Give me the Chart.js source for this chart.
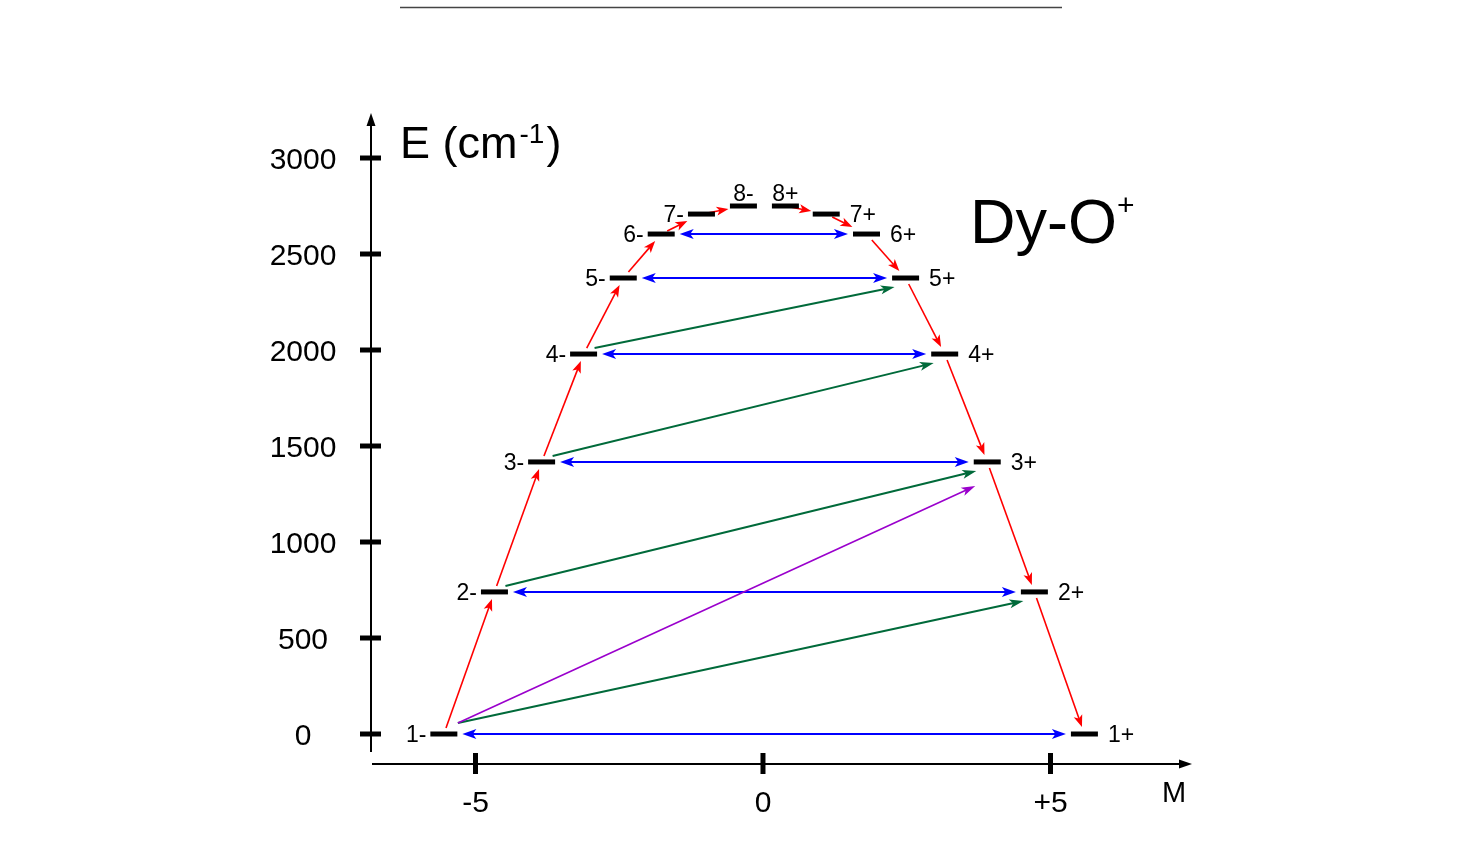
<!DOCTYPE html>
<html><head><meta charset="utf-8">
<script src="https://cdn.jsdelivr.net/npm/chart.js@4"></script>
<style>html,body{margin:0;padding:0;background:#fff}canvas{display:block}</style>
</head><body>
<canvas id="c" width="1464" height="864"></canvas>
<script>
// ---------- data ----------
const levelNames = ['1-','2-','3-','4-','5-','6-','7-','8-','8+','7+','6+','5+','4+','3+','2+','1+'];
const levelM = [-5.55,-4.67,-3.85,-3.12,-2.43,-1.77,-1.07,-0.34,0.39,1.10,1.80,2.48,3.16,3.90,4.72,5.59];
const levelE = [0,740,1417,1979,2375,2604,2708,2750,2750,2708,2604,2375,1979,1417,740,0];
const yTickValues = [0,500,1000,1500,2000,2500,3000];
const yTickLabels = ['0','500','1000','1500','2000','2500','3000'];
const xTickValues = [-5,0,5];
const xTickLabels = ['-5','0','+5'];
// transitions as [from level index, to level index]
const redTransitions = [[0,1],[1,2],[2,3],[3,4],[4,5],[5,6],[6,7],[8,9],[9,10],[10,11],[11,12],[12,13],[13,14],[14,15]];
const blueTransitions = [[0,15],[1,14],[2,13],[3,12],[4,11],[5,10]];
const greenTransitions = [[0,14],[1,13],[2,12],[3,11]];
const purpleTransitions = [[0,13]];
const yAxisTitle = 'E (cm';
const yAxisTitleSup = '-1';
const xAxisTitle = 'M';
const chartTitle = 'Dy-O';
const chartTitleSup = '+';

// ---------- styles ----------
const FONT = "'Liberation Sans', Arial, sans-serif";
const RED = '#ff0000', BLUE = '#0000ff', GREEN = '#006a3a', PURPLE = '#9a00cc';

function head(ctx, x, y, ux, uy, len, w) {
  const px = -uy, py = ux;
  ctx.beginPath();
  ctx.moveTo(x, y);
  ctx.lineTo(x - ux * len + px * w / 2, y - uy * len + py * w / 2);
  ctx.lineTo(x - ux * len * 0.75, y - uy * len * 0.75);
  ctx.lineTo(x - ux * len - px * w / 2, y - uy * len - py * w / 2);
  ctx.closePath();
  ctx.fill();
}
function arrow(ctx, x1, y1, x2, y2, color, lw, len, w, dbl) {
  const dx = x2 - x1, dy = y2 - y1, L = Math.hypot(dx, dy), ux = dx / L, uy = dy / L;
  ctx.save();
  ctx.strokeStyle = color; ctx.fillStyle = color; ctx.lineWidth = lw;
  ctx.beginPath();
  const s = dbl ? len * 0.7 : 0;
  ctx.moveTo(x1 + ux * s, y1 + uy * s);
  ctx.lineTo(x2 - ux * len * 0.7, y2 - uy * len * 0.7);
  ctx.stroke();
  head(ctx, x2, y2, ux, uy, len, w);
  if (dbl) head(ctx, x1, y1, -ux, -uy, len, w);
  ctx.restore();
}
function exitT(ux, uy, hw, hh) {
  const a = Math.abs(ux) > 1e-6 ? hw / Math.abs(ux) : Infinity;
  const b = Math.abs(uy) > 1e-6 ? hh / Math.abs(uy) : Infinity;
  return Math.min(a, b);
}

const diagramPlugin = {
  id: 'diagram',
  beforeDatasetsDraw(chart) {
    const ctx = chart.ctx, xs = chart.scales.x, ys = chart.scales.y, ca = chart.chartArea;
    const P = i => ({ x: xs.getPixelForValue(levelM[i]), y: ys.getPixelForValue(levelE[i]) });
    ctx.save();
    // axes
    ctx.strokeStyle = '#000'; ctx.fillStyle = '#000'; ctx.lineWidth = 2;
    ctx.beginPath(); ctx.moveTo(ca.left, ca.bottom - 12); ctx.lineTo(ca.left, ca.top + 8); ctx.stroke();
    ctx.beginPath(); ctx.moveTo(ca.left - 4.5, ca.top + 13); ctx.lineTo(ca.left, ca.top); ctx.lineTo(ca.left + 4.5, ca.top + 13); ctx.closePath(); ctx.fill();
    ctx.beginPath(); ctx.moveTo(ca.left + 1, ca.bottom); ctx.lineTo(ca.right - 8, ca.bottom); ctx.stroke();
    ctx.beginPath(); ctx.moveTo(ca.right - 13, ca.bottom - 4.5); ctx.lineTo(ca.right, ca.bottom); ctx.lineTo(ca.right - 13, ca.bottom + 4.5); ctx.closePath(); ctx.fill();
    ctx.lineWidth = 5;
    yTickValues.forEach(v => {
      const y = ys.getPixelForValue(v);
      ctx.beginPath(); ctx.moveTo(ca.left - 11, y); ctx.lineTo(ca.left + 10, y); ctx.stroke();
    });
    xTickValues.forEach(v => {
      const x = xs.getPixelForValue(v);
      ctx.beginPath(); ctx.moveTo(x, ca.bottom - 11); ctx.lineTo(x, ca.bottom + 10); ctx.stroke();
    });
    // blue double arrows
    blueTransitions.forEach(([a, b]) => {
      const p = P(a), q = P(b);
      arrow(ctx, p.x + 18.5, p.y, q.x - 18.5, q.y, BLUE, 2, 14, 10, true);
    });
    // green arrows
    greenTransitions.forEach(([a, b], k) => {
      const p = P(a), q = P(b);
      const sx = k === 0 ? 14 : 11, sy = k === 0 ? -11 : -6;
      arrow(ctx, p.x + sx, p.y + sy, q.x - 11, q.y + 9, GREEN, 2, 14, 9, false);
    });
    // purple arrows
    purpleTransitions.forEach(([a, b]) => {
      const p = P(a), q = P(b);
      arrow(ctx, p.x + 14, p.y - 11, q.x - 12, q.y + 24, PURPLE, 1.6, 14, 9, false);
    });
    // red arrows
    redTransitions.forEach(([a, b]) => {
      const p = P(a), q = P(b);
      const dx = q.x - p.x, dy = q.y - p.y, L = Math.hypot(dx, dy), ux = dx / L, uy = dy / L;
      const t1 = exitT(ux, uy, 6, 6), t2 = exitT(ux, uy, 15, 7);
      arrow(ctx, p.x + ux * t1, p.y + uy * t1, q.x - ux * t2, q.y - uy * t2, RED, 1.6, 12, 9, false);
    });
    ctx.restore();
  },
  afterDraw(chart) {
    const ctx = chart.ctx, xs = chart.scales.x, ys = chart.scales.y, ca = chart.chartArea;
    ctx.save();
    ctx.fillStyle = '#000';
    // tick labels
    ctx.font = '30px ' + FONT; ctx.textAlign = 'center'; ctx.textBaseline = 'alphabetic';
    yTickValues.forEach((v, i) => ctx.fillText(yTickLabels[i], ca.left - 68, ys.getPixelForValue(v) + 11));
    xTickValues.forEach((v, i) => ctx.fillText(xTickLabels[i], xs.getPixelForValue(v), ca.bottom + 48));
    // x axis title
    ctx.font = '29px ' + FONT; ctx.textAlign = 'left';
    ctx.fillText(xAxisTitle, ca.right - 30, ca.bottom + 38);
    // y axis title with superscript
    ctx.font = '45px ' + FONT;
    let x = ca.left + 29;
    ctx.fillText(yAxisTitle, x, ca.top + 45); x += ctx.measureText(yAxisTitle).width;
    ctx.font = '28px ' + FONT; ctx.fillText(yAxisTitleSup, x + 2, ca.top + 30); x += ctx.measureText(yAxisTitleSup).width + 4;
    ctx.font = '45px ' + FONT; ctx.fillText(')', x, ca.top + 45);
    // chart title
    ctx.font = '63px ' + FONT;
    ctx.fillText(chartTitle, 970, 243);
    const tw = ctx.measureText(chartTitle).width;
    ctx.font = '30px ' + FONT; ctx.fillText(chartTitleSup, 970 + tw, 215);
    // level labels
    ctx.font = '23px ' + FONT;
    levelNames.forEach((n, i) => {
      const px = xs.getPixelForValue(levelM[i]), py = ys.getPixelForValue(levelE[i]);
      if (n === '8-' || n === '8+') {
        ctx.textAlign = 'center'; ctx.fillText(n, px, py - 13 + 8);
      } else if (n.endsWith('-')) {
        ctx.textAlign = 'right'; ctx.fillText(n, px - 13.5 - 4, py + 8);
      } else {
        ctx.textAlign = 'left'; ctx.fillText(n, px + 13.5 + 10, py + 8);
      }
    });
    // top rule
    ctx.strokeStyle = '#444'; ctx.lineWidth = 1.5;
    ctx.beginPath(); ctx.moveTo(400, 7.5); ctx.lineTo(1062, 7.5); ctx.stroke();
    ctx.restore();
  }
};

new Chart(document.getElementById('c'), {
  type: 'scatter',
  data: {
    datasets: [{
      label: 'levels',
      data: levelM.map((m, i) => ({ x: m, y: levelE[i] })),
      pointStyle: 'line',
      pointRadius: 13.5,
      pointHoverRadius: 13.5,
      pointBorderWidth: 5,
      pointBorderColor: '#000',
      pointBackgroundColor: '#000',
      clip: false
    }]
  },
  options: {
    responsive: false,
    animation: false,
    events: [],
    layout: { padding: { left: 371, right: 272, top: 113, bottom: 100 } },
    scales: {
      x: { type: 'linear', min: -6.817, max: 7.461, display: false },
      y: { type: 'linear', min: -156.25, max: 3234.4, display: false }
    },
    plugins: { legend: { display: false }, tooltip: { enabled: false }, title: { display: false } }
  },
  plugins: [diagramPlugin]
});
</script>
</body></html>
